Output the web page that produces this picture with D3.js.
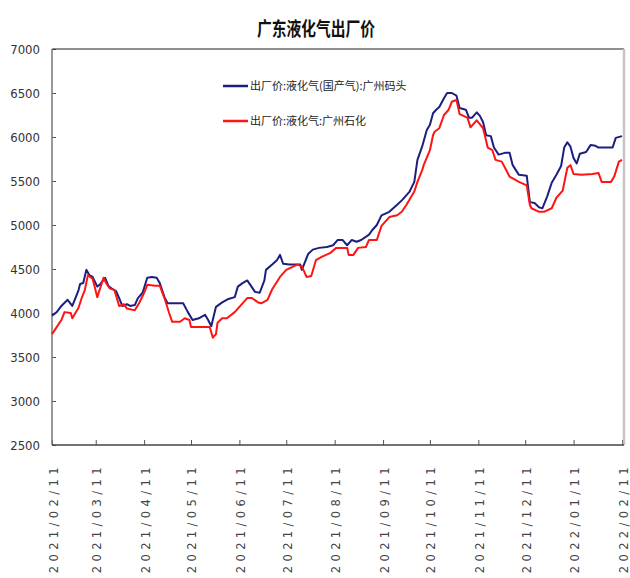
<!DOCTYPE html>
<html>
<head>
<meta charset="utf-8">
<script src="https://cdn.jsdelivr.net/npm/d3@7"></script>
<style>
  body { margin: 0; background: #fff; }
  svg { display: block; }
</style>
</head>
<body>
<div id="chart"></div>
<script>
const title = "广东液化气出厂价";
const seriesNames = ["出厂价:液化气(国产气):广州码头", "出厂价:液化气:广州石化"];
const seriesColors = ["#1b1f80", "#ff1414"];

const yTicks = [2500, 3000, 3500, 4000, 4500, 5000, 5500, 6000, 6500, 7000];
const xTickLabels = ["2021/02/11", "2021/03/11", "2021/04/11", "2021/05/11", "2021/06/11", "2021/07/11",
  "2021/08/11", "2021/09/11", "2021/10/11", "2021/11/11", "2021/12/11", "2022/01/11", "2022/02/11"];

// 国产气:广州码头
const blueDates = ["2021-02-11","2021-02-14","2021-02-17","2021-02-21","2021-02-24","2021-02-26","2021-02-28","2021-03-01","2021-03-03","2021-03-05",
  "2021-03-07","2021-03-09","2021-03-12","2021-03-14","2021-03-17","2021-03-19","2021-03-21","2021-03-24","2021-03-26","2021-03-28",
  "2021-03-31","2021-04-02","2021-04-05","2021-04-07","2021-04-10","2021-04-13","2021-04-16","2021-04-19","2021-04-21","2021-04-24",
  "2021-04-26","2021-05-01","2021-05-06","2021-05-09","2021-05-12","2021-05-16","2021-05-20","2021-05-22","2021-05-24","2021-05-27",
  "2021-05-31","2021-06-04","2021-06-08","2021-06-10","2021-06-13","2021-06-16","2021-06-18","2021-06-21","2021-06-24","2021-06-27",
  "2021-06-28","2021-07-02","2021-07-05","2021-07-07","2021-07-09","2021-07-13","2021-07-20","2021-07-21","2021-07-25","2021-07-28",
  "2021-08-01","2021-08-06","2021-08-10","2021-08-13","2021-08-16","2021-08-19","2021-08-22","2021-08-25","2021-08-28","2021-09-02",
  "2021-09-04","2021-09-07","2021-09-10","2021-09-15","2021-09-20","2021-09-23","2021-09-28","2021-10-01","2021-10-03","2021-10-06",
  "2021-10-09","2021-10-11","2021-10-13","2021-10-15","2021-10-17","2021-10-20","2021-10-22","2021-10-25","2021-10-28","2021-10-30",
  "2021-11-03","2021-11-05","2021-11-07","2021-11-10","2021-11-12","2021-11-14","2021-11-16","2021-11-19","2021-11-21","2021-11-24",
  "2021-11-28","2021-12-01","2021-12-03","2021-12-07","2021-12-12","2021-12-14","2021-12-17","2021-12-20","2021-12-22","2021-12-25",
  "2021-12-28","2021-12-31","2022-01-03","2022-01-05","2022-01-07","2022-01-09","2022-01-11","2022-01-13","2022-01-15","2022-01-19",
  "2022-01-22","2022-01-25","2022-01-27","2022-02-05","2022-02-07","2022-02-11"];
const blueValues = [3970,4010,4080,4150,4080,4170,4260,4330,4340,4490,
  4430,4410,4300,4330,4400,4310,4280,4250,4170,4080,
  4100,4080,4090,4170,4230,4400,4410,4400,4340,4180,
  4110,4110,4110,4010,3920,3940,3980,3920,3850,4070,
  4120,4160,4180,4300,4340,4370,4320,4240,4230,4370,
  4490,4550,4600,4660,4560,4550,4550,4490,4670,4720,
  4740,4750,4770,4830,4830,4770,4830,4810,4830,4890,
  4940,5000,5110,5150,5230,5280,5380,5490,5740,5890,
  6080,6140,6270,6310,6340,6440,6500,6500,6470,6330,
  6310,6220,6220,6280,6240,6170,6020,6010,5880,5800,
  5820,5820,5680,5570,5560,5260,5250,5200,5190,5320,
  5480,5570,5670,5880,5940,5890,5760,5700,5810,5830,
  5910,5900,5880,5880,5990,6010];

// 广州石化
const redDates = ["2021-02-11","2021-02-14","2021-02-17","2021-02-19","2021-02-23","2021-02-24","2021-02-28","2021-03-02","2021-03-04","2021-03-06",
  "2021-03-09","2021-03-10","2021-03-12","2021-03-16","2021-03-18","2021-03-20","2021-03-23","2021-03-26","2021-03-29","2021-03-31",
  "2021-04-05","2021-04-08","2021-04-11","2021-04-13","2021-04-18","2021-04-21","2021-04-24","2021-04-27","2021-04-29","2021-05-04",
  "2021-05-07","2021-05-10","2021-05-11","2021-05-17","2021-05-23","2021-05-25","2021-05-27","2021-05-28","2021-05-31","2021-06-03",
  "2021-06-08","2021-06-11","2021-06-16","2021-06-19","2021-06-23","2021-06-25","2021-06-29","2021-07-02","2021-07-07","2021-07-11",
  "2021-07-18","2021-07-21","2021-07-24","2021-07-27","2021-07-30","2021-08-03","2021-08-08","2021-08-12","2021-08-19","2021-08-20",
  "2021-08-23","2021-08-26","2021-08-31","2021-09-02","2021-09-07","2021-09-10","2021-09-15","2021-09-20","2021-09-23","2021-09-26",
  "2021-09-29","2021-10-01","2021-10-03","2021-10-06","2021-10-07","2021-10-11","2021-10-13","2021-10-14","2021-10-17","2021-10-20",
  "2021-10-23","2021-10-25","2021-10-28","2021-10-30","2021-11-04","2021-11-06","2021-11-10","2021-11-14","2021-11-15","2021-11-17",
  "2021-11-20","2021-11-22","2021-11-26","2021-11-29","2021-12-01","2021-12-07","2021-12-12","2021-12-14","2021-12-15","2021-12-20",
  "2021-12-23","2021-12-28","2021-12-31","2022-01-04","2022-01-07","2022-01-09","2022-01-11","2022-01-16","2022-01-23","2022-01-27",
  "2022-01-29","2022-02-04","2022-02-06","2022-02-09","2022-02-11"];
const redValues = [3760,3840,3920,4010,4000,3940,4060,4170,4260,4430,
  4390,4320,4180,4400,4330,4280,4260,4080,4100,4050,
  4030,4120,4230,4320,4310,4310,4170,4000,3900,3900,
  3940,3920,3840,3840,3840,3720,3760,3890,3940,3940,
  4010,4070,4170,4170,4120,4110,4150,4270,4410,4490,
  4550,4530,4410,4420,4600,4640,4680,4740,4740,4660,
  4660,4740,4750,4830,4830,4990,5090,5110,5150,5230,
  5320,5380,5490,5620,5680,5850,6020,6060,6100,6250,
  6310,6400,6420,6260,6220,6110,6190,6100,6030,5880,
  5850,5740,5720,5620,5550,5490,5450,5230,5190,5150,
  5150,5190,5310,5390,5650,5680,5580,5570,5580,5590,
  5490,5490,5550,5720,5740];

const W = 630, H = 578;
const plot = { left: 52, right: 622, top: 49, bottom: 445 };
const parseDate = d3.timeParse("%Y-%m-%d");
const parseTick = d3.timeParse("%Y/%m/%d");

const svg = d3.select("#chart").append("svg")
  .attr("width", W)
  .attr("height", H);

const x = d3.scaleTime()
  .domain([parseTick(xTickLabels[0]), parseTick(xTickLabels[xTickLabels.length - 1])])
  .range([plot.left, plot.right]);

const y = d3.scaleLinear()
  .domain([2500, 7000])
  .range([plot.bottom, plot.top]);

// title
svg.append("text")
  .attr("x", 316)
  .attr("y", 36)
  .attr("text-anchor", "middle")
  .attr("textLength", 118)
  .attr("lengthAdjust", "spacingAndGlyphs")
  .style("font-family", "'Noto Sans CJK SC', sans-serif")
  .style("font-size", "19px")
  .style("font-weight", "bold")
  .style("fill", "#111")
  .text(title);

// y axis (ticks point inward)
const yAxis = svg.append("g")
  .attr("transform", `translate(${plot.left},0)`)
  .call(d3.axisLeft(y).tickValues(yTicks).tickSize(-4).tickPadding(12).tickFormat(d3.format("d")));
yAxis.select(".domain").remove();
yAxis.selectAll("line").attr("stroke", "#555");
yAxis.selectAll("text")
  .style("font-family", "'DejaVu Sans Condensed', 'Liberation Sans', sans-serif")
  .style("font-size", "13px")
  .style("fill", "#333");

// x axis, labels rotated
const xAxis = svg.append("g")
  .attr("transform", `translate(0,${plot.bottom})`)
  .call(d3.axisBottom(x)
    .tickValues(xTickLabels.map(parseTick))
    .tickSize(-5)
    .tickFormat(d3.timeFormat("%Y/%m/%d")));
xAxis.select(".domain").remove();
xAxis.selectAll("line").attr("stroke", "#555");
xAxis.selectAll("text")
  .attr("y", 0)
  .attr("dy", 0)
  .attr("transform", "translate(1,18) rotate(-90)")
  .attr("text-anchor", "end")
  .attr("dominant-baseline", "central")
  .style("font-family", "'DejaVu Sans', sans-serif")
  .style("font-size", "11.5px")
  .style("letter-spacing", "4.4px")
  .style("fill", "#444");

// frame
svg.append("line").attr("x1", plot.left).attr("x2", plot.right + 2).attr("y1", plot.top).attr("y2", plot.top)
  .attr("stroke", "#222").attr("stroke-width", 1.2);
svg.append("line").attr("x1", plot.right + 2).attr("x2", plot.right + 2).attr("y1", plot.top).attr("y2", plot.bottom)
  .attr("stroke", "#c4c4c4").attr("stroke-width", 2.5);
svg.append("line").attr("x1", plot.left).attr("x2", plot.left).attr("y1", plot.top).attr("y2", plot.bottom)
  .attr("stroke", "#777").attr("stroke-width", 1.5);
svg.append("line").attr("x1", plot.left).attr("x2", plot.right + 2).attr("y1", plot.bottom).attr("y2", plot.bottom)
  .attr("stroke", "#444").attr("stroke-width", 1.3);

// lines
const line = d3.line()
  .x(d => x(d[0]))
  .y(d => y(d[1]));

const series = [
  d3.zip(blueDates.map(parseDate), blueValues),
  d3.zip(redDates.map(parseDate), redValues)
];

series.forEach((s, i) => {
  svg.append("path")
    .datum(s)
    .attr("fill", "none")
    .attr("stroke", seriesColors[i])
    .attr("stroke-width", 2)
    .attr("stroke-linejoin", "round")
    .attr("d", line);
});

// legend
const legend = svg.append("g").attr("transform", "translate(223,86)");
seriesNames.forEach((name, i) => {
  const row = legend.append("g").attr("transform", `translate(0,${i * 35})`);
  row.append("line")
    .attr("x1", 0).attr("x2", 25)
    .attr("stroke", seriesColors[i])
    .attr("stroke-width", 2.5);
  row.append("text")
    .attr("x", 27)
    .attr("y", 4)
    .style("font-family", "'Noto Sans CJK SC', sans-serif")
    .style("font-size", "11px")
    .style("fill", "#222")
    .text(name);
});
</script>
</body>
</html>
